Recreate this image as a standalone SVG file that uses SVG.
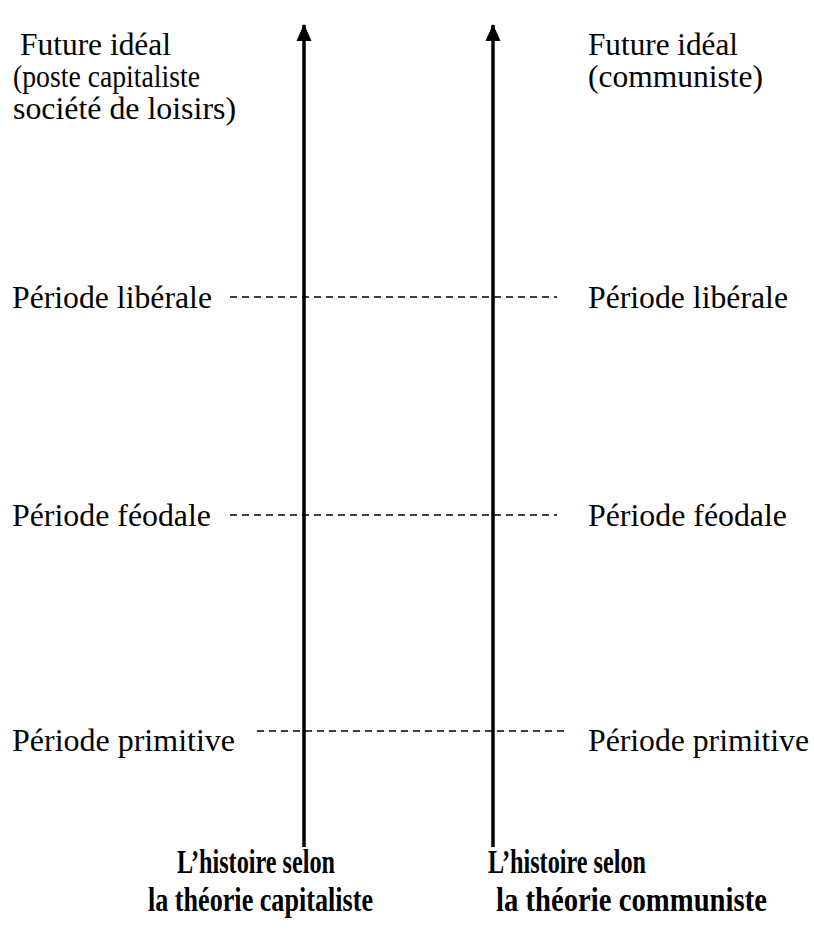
<svg xmlns="http://www.w3.org/2000/svg" width="814" height="931" viewBox="0 0 814 931">
<defs>
<marker id="ah" markerWidth="16" markerHeight="17" refX="8" refY="1" orient="0" markerUnits="userSpaceOnUse" viewBox="0 0 16 17">
<path d="M8 0 L15.5 17 L0.5 17 Z" fill="#000"/>
</marker>
<style>
.t{font-family:'Liberation Serif','Times New Roman',Times,serif;font-size:32px;font-weight:normal;fill:#000}
.b{font-family:'Liberation Serif','Times New Roman',Times,serif;font-size:34px;font-weight:bold;fill:#000}
.d{stroke:#000;stroke-width:1.5;stroke-dasharray:7 5;fill:none}
.ax{stroke:#000;stroke-width:3.5;fill:none}
</style>
</defs>
<rect width="814" height="931" fill="#fff"/>
<g id="connectors">
<line class="d" x1="230" y1="297" x2="557" y2="297"/>
<line class="d" x1="230" y1="515" x2="557" y2="515"/>
<line class="d" x1="257" y1="731" x2="565" y2="731"/>
<line class="ax" x1="304" y1="847" x2="304" y2="25" marker-end="url(#ah)"/>
<line class="ax" x1="493" y1="847" x2="493" y2="25" marker-end="url(#ah)"/>
</g>
<g id="future-capitaliste">
<text class="t" x="20" y="55" textLength="151" lengthAdjust="spacingAndGlyphs">Future idéal</text>
<text class="t" x="13" y="87" textLength="187" lengthAdjust="spacingAndGlyphs">(poste capitaliste</text>
<text class="t" x="13" y="119" textLength="223" lengthAdjust="spacingAndGlyphs">société de loisirs)</text>
</g>
<g id="future-communiste">
<text class="t" x="588" y="55" textLength="150" lengthAdjust="spacingAndGlyphs">Future idéal</text>
<text class="t" x="588" y="87" textLength="175" lengthAdjust="spacingAndGlyphs">(communiste)</text>
</g>
<g id="liberale-gauche"><text class="t" x="12" y="308" textLength="200" lengthAdjust="spacingAndGlyphs">Période libérale</text></g>
<g id="liberale-droite"><text class="t" x="588" y="308" textLength="200" lengthAdjust="spacingAndGlyphs">Période libérale</text></g>
<g id="feodale-gauche"><text class="t" x="12" y="526" textLength="199" lengthAdjust="spacingAndGlyphs">Période féodale</text></g>
<g id="feodale-droite"><text class="t" x="588" y="526" textLength="199" lengthAdjust="spacingAndGlyphs">Période féodale</text></g>
<g id="primitive-gauche"><text class="t" x="12" y="751" textLength="223" lengthAdjust="spacingAndGlyphs">Période primitive</text></g>
<g id="primitive-droite"><text class="t" x="588" y="751" textLength="221" lengthAdjust="spacingAndGlyphs">Période primitive</text></g>
<g id="label-capitaliste">
<text class="b" x="177" y="873" textLength="158" lengthAdjust="spacingAndGlyphs">L’histoire selon</text>
<text class="b" x="148" y="911" textLength="225" lengthAdjust="spacingAndGlyphs">la théorie capitaliste</text>
</g>
<g id="label-communiste">
<text class="b" x="488" y="873" textLength="158" lengthAdjust="spacingAndGlyphs">L’histoire selon</text>
<text class="b" x="496" y="911" textLength="271" lengthAdjust="spacingAndGlyphs">la théorie communiste</text>
</g>
</svg>
